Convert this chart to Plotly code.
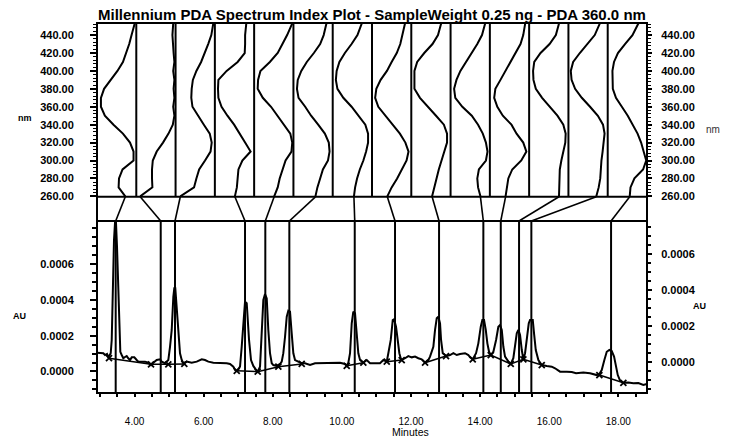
import plotly.graph_objects as go

TITLE = "Millennium PDA Spectrum Index Plot - SampleWeight 0.25 ng - PDA 360.0 nm"

# ---------------- spectra (normalised absorbance, 0..1 across each strip) -------------
WAVELENGTHS = [260, 270, 280, 290, 300, 310, 320, 330, 340, 350,
               360, 370, 380, 390, 400, 410, 420, 430, 440, 453]

SPEC_01 = [0.72, 0.55, 0.56, 0.65, 0.93, 0.93, 0.84, 0.66, 0.42, 0.20, 0.10, 0.10, 0.18, 0.36, 0.52, 0.66, 0.75, 0.82, 0.88, 0.96]
SPEC_02 = [0.10, 0.41, 0.40, 0.40, 0.42, 0.52, 0.68, 0.82, 0.93, 0.97, 0.94, 0.97, 0.95, 0.97, 0.94, 0.97, 0.95, 0.93, 0.92, 0.94]
SPEC_03 = [0.12, 0.47, 0.53, 0.60, 0.75, 0.89, 0.92, 0.87, 0.72, 0.57, 0.43, 0.40, 0.41, 0.44, 0.53, 0.65, 0.75, 0.83, 0.91, 0.96]
SPEC_04 = [0.51, 0.56, 0.58, 0.60, 0.70, 0.91, 0.77, 0.63, 0.49, 0.32, 0.17, 0.09, 0.08, 0.09, 0.30, 0.58, 0.76, 0.77, 0.77, 0.80]
SPEC_05 = [0.51, 0.60, 0.65, 0.72, 0.80, 0.95, 0.97, 0.92, 0.76, 0.59, 0.43, 0.22, 0.09, 0.10, 0.16, 0.40, 0.60, 0.72, 0.84, 0.97]
SPEC_06 = [0.56, 0.61, 0.68, 0.75, 0.88, 0.92, 0.90, 0.80, 0.63, 0.45, 0.30, 0.13, 0.09, 0.11, 0.20, 0.34, 0.52, 0.68, 0.77, 0.84]
SPEC_07 = [0.54, 0.57, 0.62, 0.69, 0.78, 0.85, 0.90, 0.90, 0.83, 0.66, 0.48, 0.27, 0.12, 0.08, 0.10, 0.17, 0.31, 0.48, 0.63, 0.74]
SPEC_08 = [0.39, 0.50, 0.64, 0.77, 0.88, 0.93, 0.85, 0.71, 0.53, 0.35, 0.16, 0.08, 0.11, 0.22, 0.38, 0.50, 0.63, 0.72, 0.78, 0.84]
SPEC_09 = [0.53, 0.59, 0.63, 0.70, 0.77, 0.85, 0.91, 0.91, 0.83, 0.63, 0.43, 0.22, 0.08, 0.08, 0.08, 0.15, 0.33, 0.54, 0.68, 0.76]
SPEC_10 = [0.76, 0.70, 0.68, 0.72, 0.90, 0.94, 0.90, 0.82, 0.70, 0.54, 0.30, 0.12, 0.09, 0.15, 0.25, 0.40, 0.53, 0.68, 0.80, 0.88]
SPEC_11 = [0.40, 0.44, 0.47, 0.57, 0.80, 0.93, 0.85, 0.68, 0.55, 0.33, 0.19, 0.11, 0.14, 0.27, 0.40, 0.54, 0.66, 0.78, 0.85, 0.90]
SPEC_12 = [0.76, 0.77, 0.78, 0.78, 0.82, 0.88, 0.92, 0.93, 0.87, 0.72, 0.53, 0.33, 0.17, 0.11, 0.10, 0.13, 0.29, 0.52, 0.68, 0.76]
SPEC_13 = [0.71, 0.77, 0.81, 0.82, 0.84, 0.87, 0.90, 0.92, 0.88, 0.75, 0.55, 0.34, 0.17, 0.08, 0.06, 0.12, 0.29, 0.48, 0.67, 0.80]
SPEC_14 = [0.56, 0.58, 0.68, 0.90, 0.98, 0.92, 0.85, 0.76, 0.64, 0.51, 0.36, 0.21, 0.13, 0.12, 0.12, 0.16, 0.26, 0.44, 0.63, 0.78]

SPECTRA = [SPEC_01, SPEC_02, SPEC_03, SPEC_04, SPEC_05, SPEC_06, SPEC_07,
           SPEC_08, SPEC_09, SPEC_10, SPEC_11, SPEC_12, SPEC_13, SPEC_14]

# retention times (min) at which each spectrum was extracted
PEAK_TIMES = [3.454, 4.757, 5.171, 7.197, 7.784, 8.479, 10.372,
              11.538, 12.812, 14.094, 14.598, 15.127, 15.483, 17.790]

# ---------------- chromatogram ----------------
CHROM_TIME = [2.904, 3.096, 3.145, 3.203, 3.240, 3.310, 3.339, 3.368, 3.405, 3.434, 3.463, 3.492, 3.530, 3.559, 3.588,
              3.628, 3.674, 3.724, 3.773, 3.819, 3.868, 3.918, 3.993, 4.062, 4.109, 4.207, 4.302, 4.398, 4.476, 4.543,
              4.641, 4.737, 4.786, 4.881, 4.977, 5.026, 5.075, 5.122, 5.150, 5.179, 5.229, 5.266, 5.315, 5.365, 5.411,
              5.509, 5.654, 5.799, 5.944, 6.039, 6.135, 6.279, 6.424, 6.569, 6.667, 6.763, 6.858, 6.907, 6.957, 7.003,
              7.052, 7.101, 7.148, 7.197, 7.246, 7.275, 7.313, 7.370, 7.437, 7.506, 7.564, 7.631, 7.680, 7.727, 7.776,
              7.825, 7.871, 7.920, 7.970, 8.016, 8.115, 8.211, 8.259, 8.305, 8.355, 8.404, 8.450, 8.499, 8.548, 8.595,
              8.644, 8.740, 8.838, 8.934, 9.078, 9.223, 9.368, 9.463, 9.561, 9.657, 9.802, 9.946, 10.091, 10.140, 10.187,
              10.236, 10.285, 10.331, 10.380, 10.430, 10.476, 10.525, 10.575, 10.621, 10.719, 10.815, 10.959, 11.104,
              11.200, 11.298, 11.344, 11.414, 11.472, 11.510, 11.567, 11.605, 11.663, 11.703, 11.732, 11.828, 11.923,
              12.022, 12.117, 12.213, 12.310, 12.407, 12.503, 12.551, 12.647, 12.696, 12.745, 12.791, 12.841, 12.870,
              12.919, 12.986, 13.014, 13.130, 13.226, 13.324, 13.420, 13.564, 13.660, 13.709, 13.787, 13.883, 13.949,
              14.019, 14.065, 14.114, 14.164, 14.210, 14.259, 14.308, 14.384, 14.462, 14.528, 14.577, 14.627, 14.673,
              14.722, 14.818, 14.887, 14.962, 15.012, 15.061, 15.107, 15.156, 15.206, 15.252, 15.301, 15.350, 15.408,
              15.446, 15.524, 15.561, 15.611, 15.686, 15.784, 15.929, 16.073, 16.169, 16.314, 16.508, 16.652, 16.777,
              16.988, 17.182, 17.376, 17.451, 17.520, 17.596, 17.665, 17.741, 17.810, 17.877, 17.926, 17.984, 18.051,
              18.146, 18.291, 18.436, 18.580, 18.725, 18.823]

CHROM_AU = [0.000105, 0.000102, 0.000092, 0.000098, 0.000079, 0.000102, 0.000176, 0.000473, 0.000734, 0.000829,
            0.000829, 0.000696, 0.000438, 0.000176, 0.000110, 0.000092, 0.000074, 0.000081, 0.000086, 0.000074,
            0.000064, 0.000079, 0.000079, 0.000064, 0.000055, 0.000055, 0.000055, 0.000049, 0.000036, 0.000049,
            0.000064, 0.000068, 0.000055, 0.000046, 0.000064, 0.000138, 0.000232, 0.000417, 0.000464, 0.000464,
            0.000325, 0.000213, 0.000102, 0.000064, 0.000046, 0.000055, 0.000049, 0.000055, 0.000068, 0.000064,
            0.000055, 0.000049, 0.000049, 0.000049, 0.000046, 0.000042, 0.000027, 0.000008, 0.000004, 0.000014,
            0.000027, 0.000138, 0.000287, 0.000390, 0.000381, 0.000287, 0.000176, 0.000064, 0.000031, 0.000012,
            -0.000001, 0.000027, 0.000194, 0.000399, 0.000432, 0.000408, 0.000232, 0.000102, 0.000046, 0.000036,
            0.000031, 0.000042, 0.000055, 0.000102, 0.000194, 0.000306, 0.000339, 0.000334, 0.000213, 0.000102,
            0.000064, 0.000055, 0.000046, 0.000046, 0.000036, 0.000046, 0.000046, 0.000049, 0.000046, 0.000049,
            0.000046, 0.000049, 0.000042, 0.000032, 0.000049, 0.000102, 0.000269, 0.000334, 0.000325, 0.000194,
            0.000102, 0.000064, 0.000055, 0.000049, 0.000064, 0.000046, 0.000046, 0.000046, 0.000064, 0.000055,
            0.000102, 0.000176, 0.000287, 0.000291, 0.000250, 0.000176, 0.000102, 0.000074, 0.000064, 0.000074,
            0.000086, 0.000079, 0.000083, 0.000074, 0.000068, 0.000049, 0.000064, 0.000083, 0.000138, 0.000232,
            0.000297, 0.000306, 0.000269, 0.000176, 0.000102, 0.000092, 0.000086, 0.000092, 0.000102, 0.000092,
            0.000098, 0.000102, 0.000092, 0.000079, 0.000068, 0.000102, 0.000157, 0.000250, 0.000287, 0.000287,
            0.000232, 0.000157, 0.000110, 0.000092, 0.000110, 0.000176, 0.000250, 0.000259, 0.000232, 0.000138,
            0.000083, 0.000055, 0.000042, 0.000074, 0.000138, 0.000213, 0.000232, 0.000204, 0.000120, 0.000068,
            0.000102, 0.000176, 0.000269, 0.000287, 0.000287, 0.000213, 0.000120, 0.000064, 0.000036, 0.000031,
            0.000027, 0.000018, -0.000001, -0.000001, -0.000003, -0.000010, -0.000006, -0.000010, -0.000020,
            -0.000014, 0.000008, 0.000064, 0.000110, 0.000120, 0.000114, 0.000083, 0.000027, -0.000020, -0.000051,
            -0.000063, -0.000061, -0.000066, -0.000064, -0.000075, -0.000070]

# integration baselines (peak start / end marks)
BASE_TIME = [3.260, 4.476, 4.977, 5.440, None, 6.957, 7.564, 8.161, 8.838, None, 10.140, 10.621, None,
             11.298, 11.732, None, 12.407, 13.014, None, 13.787, 14.308, 14.887, 15.252, 15.784, None,
             17.451, 18.146]
BASE_AU = [0.000074, 0.000040, 0.000040, 0.000042, None, 0.000004, -0.000001, 0.000027, 0.000042, None,
           0.000032, 0.000049, None, 0.000055, 0.000064, None, 0.000049, 0.000086, None, 0.000068, 0.000092,
           0.000042, 0.000068, 0.000036, None, -0.000020, -0.000063]

X_TICKS = [4, 6, 8, 10, 12, 14, 16, 18]
AU_TICKS = [0.0, 0.0002, 0.0004, 0.0006]
NM_TICKS = [260, 280, 300, 320, 340, 360, 380, 400, 420, 440]

# ---------------- geometry ----------------
T0, T1 = 2.913, 18.83
AU_RANGE_L = [-0.00012, 0.00084]
AU_RANGE_R = [-0.000175, 0.000785]
NM_RANGE = [259.5, 453.5]
D1, D2 = 0.4649, 0.5303          # chromatogram top / spectrum panel bottom (paper)
N = len(SPECTRA)
W = (T1 - T0) / N

FONT = "Liberation Sans, Arial, sans-serif"
BOLD = dict(family=FONT, size=11, color="black", weight="bold")
LW = 2

fig = go.Figure()

# spectra
sx, sy = [], []
for i, spec in enumerate(SPECTRA):
    sx += [i + a for a in spec] + [None]
    sy += WAVELENGTHS + [None]
fig.add_trace(go.Scatter(x=sx, y=sy, xaxis="x2", yaxis="y3", mode="lines",
                         line=dict(color="black", width=LW), hoverinfo="skip", showlegend=False))
fig.add_trace(go.Scatter(x=[], y=[], xaxis="x2", yaxis="y4", showlegend=False, hoverinfo="skip"))

# connectors from spectrum foot to chromatogram peak
cx, cy = [], []
for i, spec in enumerate(SPECTRA):
    cx += [T0 + (i + spec[0]) * W, PEAK_TIMES[i], None]
    cy += [1, 0, None]
fig.add_trace(go.Scatter(x=cx, y=cy, xaxis="x3", yaxis="y5", mode="lines",
                         line=dict(color="black", width=1.6), hoverinfo="skip", showlegend=False))

# chromatogram
fig.add_trace(go.Scatter(x=CHROM_TIME, y=CHROM_AU, xaxis="x", yaxis="y", mode="lines",
                         line=dict(color="black", width=LW), hoverinfo="skip", showlegend=False))
fig.add_trace(go.Scatter(x=BASE_TIME, y=BASE_AU, xaxis="x", yaxis="y", mode="lines+markers",
                         line=dict(color="black", width=1.5),
                         marker=dict(symbol="x-thin", size=6, color="black",
                                     line=dict(width=1.8, color="black")),
                         hoverinfo="skip", showlegend=False))
fig.add_trace(go.Scatter(x=[], y=[], xaxis="x", yaxis="y2", showlegend=False, hoverinfo="skip"))

shapes = []
# peak lines
for t in PEAK_TIMES:
    shapes.append(dict(type="line", xref="x", yref="y domain", x0=t, x1=t, y0=0, y1=1,
                       line=dict(color="black", width=LW)))
# strip dividers
for k in range(1, N):
    shapes.append(dict(type="line", xref="x2", yref="y3 domain", x0=k, x1=k, y0=0, y1=1,
                       line=dict(color="black", width=LW)))
# frame
shapes.append(dict(type="rect", xref="paper", yref="paper", x0=0, x1=1, y0=0, y1=1,
                   line=dict(color="black", width=LW)))
for yy in (D1, D2):
    shapes.append(dict(type="line", xref="paper", yref="paper", x0=0, x1=1, y0=yy, y1=yy,
                       line=dict(color="black", width=LW)))

axis_common = dict(showgrid=False, zeroline=False, showline=False, ticks="outside",
                   tickcolor="black", tickwidth=1.5)

fig.update_layout(
    width=749, height=441, autosize=False,
    margin=dict(l=97, r=102, t=23, b=48),
    paper_bgcolor="white", plot_bgcolor="white",
    showlegend=False,
    xaxis=dict(domain=[0, 1], range=[T0, T1], anchor="y", tickvals=X_TICKS, tickformat=".2f",
               ticklen=3, ticklabelstandoff=16,
               tickfont=dict(family=FONT, size=10, color="black"),
               minor=dict(dtick=0.5, tick0=0, ticks="outside", ticklen=3, tickcolor="black", tickwidth=1.5),
               **axis_common),
    yaxis=dict(domain=[0, D1], range=AU_RANGE_L, anchor="x", side="left", tickvals=AU_TICKS,
               tickformat=".4f", ticklen=6, ticklabelstandoff=14, tickfont=BOLD,
               minor=dict(dtick=0.00005, tick0=0, ticks="outside", ticklen=4, tickcolor="black", tickwidth=1.5),
               **axis_common),
    yaxis2=dict(overlaying="y", range=AU_RANGE_R, anchor="x", side="right", tickvals=AU_TICKS,
                tickformat=".4f", ticklen=4, ticklabelstandoff=7, tickfont=BOLD,
                minor=dict(dtick=0.00005, tick0=0, ticks="outside", ticklen=3, tickcolor="black", tickwidth=1.5),
                **axis_common),
    xaxis2=dict(domain=[0, 1], range=[0, N], anchor="y3", visible=False),
    yaxis3=dict(domain=[D2, 1], range=NM_RANGE, anchor="x2", side="left", tickvals=NM_TICKS,
                tickformat=".2f", ticklen=6, ticklabelstandoff=14, tickfont=BOLD,
                minor=dict(dtick=4, tick0=0, ticks="outside", ticklen=3, tickcolor="black", tickwidth=1.2),
                **axis_common),
    yaxis4=dict(overlaying="y3", range=NM_RANGE, anchor="x2", side="right", tickvals=NM_TICKS,
                tickformat=".2f", ticklen=4, ticklabelstandoff=7, tickfont=BOLD,
                minor=dict(dtick=4, tick0=0, ticks="outside", ticklen=3, tickcolor="black", tickwidth=1.2),
                **axis_common),
    xaxis3=dict(domain=[0, 1], range=[T0, T1], anchor="y5", visible=False),
    yaxis5=dict(domain=[D1, D2], range=[0, 1], anchor="x3", visible=False),
    shapes=shapes,
)

def label(text, px, py, font):
    """Place a text centred on a pixel position of the 749x441 page."""
    return dict(text=text, x=(px - 97) / 550, y=(393 - py) / 370, xref="paper", yref="paper",
                xanchor="center", yanchor="middle", showarrow=False, font=font)

annotations = [
    label(TITLE, 372, 14, dict(family=FONT, size=15, color="black", weight="bold")),
    label("nm", 25, 118, dict(family=FONT, size=9, color="black", weight="bold")),
    label("AU", 19, 316, dict(family=FONT, size=9, color="black", weight="bold")),
    label("AU", 699, 306, dict(family=FONT, size=9, color="black", weight="bold")),
    label("nm", 713, 129, dict(family=FONT, size=10, color="#333333")),
    label("Minutes", 410, 432, dict(family=FONT, size=10.5, color="black")),
]
fig.update_layout(annotations=annotations)

fig.write_html("out.html")
